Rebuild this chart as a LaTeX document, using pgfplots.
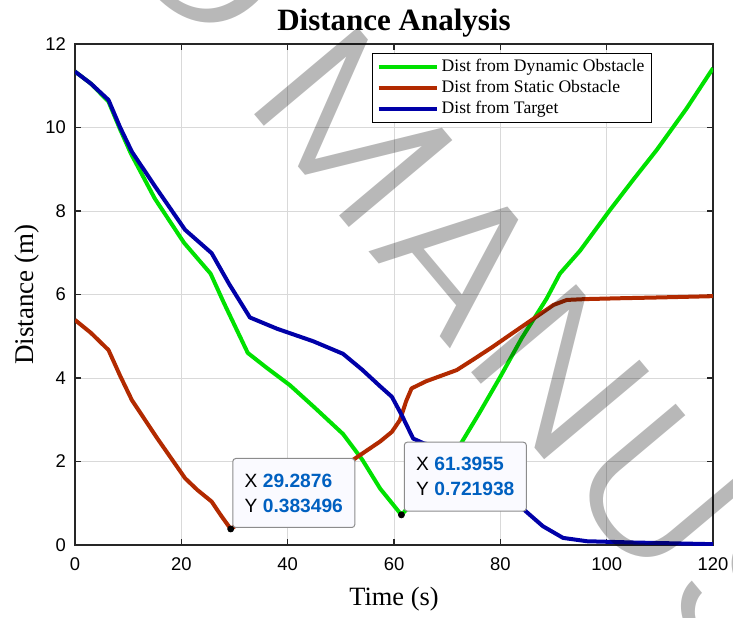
\documentclass[border=0pt]{standalone}
\usepackage{fontspec}
\setmainfont{Liberation Serif}
\setsansfont{Liberation Sans}
\newfontfamily\wmfont{Poppins}[UprightFont=* Light, FakeStretch=1.1, LetterSpace=4]
\usepackage{pgfplots}
\pgfplotsset{compat=1.18}

\definecolor{dyngreen}{RGB}{0,225,0}
\definecolor{statred}{RGB}{178,42,0}
\definecolor{tgtblue}{RGB}{0,0,168}
\definecolor{tipblue}{RGB}{0,96,192}
\definecolor{tipfill}{RGB}{250,250,255}

\tikzset{
  datatip/.style={draw=black!45, line width=0.5pt, fill=tipfill, rounded corners=1.5pt,
    minimum width=61pt, minimum height=34.5pt, align=left, inner sep=0pt,
    font=\sffamily\fontsize{9.6}{12.5}\selectfont},
}

\begin{document}
\begin{tikzpicture}
\begin{axis}[
  scale only axis, width=319pt, height=250.5pt,
  xmin=0, xmax=120, ymin=0, ymax=12,
  xtick={0,20,...,120}, ytick={0,2,...,12},
  grid=major, major grid style={line width=0.4pt, draw=black!15},
  axis line style={line width=0.6pt, black!85},
  tick style={line width=0.6pt, black!85},
  tick align=inside, major tick length=3pt,
  /pgf/number format/assume math mode=true,
  tick label style={font=\sffamily\fontsize{9.2}{10}\selectfont, black},
  xticklabel style={yshift=-3pt},
  yticklabel style={xshift=-1pt},
  title={\textbf{Distance Analysis}},
  title style={at={(axis description cs:0.5,1.002)}, anchor=base, font=\fontsize{15.5}{18}\selectfont},
  xlabel={Time (s)},
  xlabel style={at={(axis description cs:0.5,-0.1198)}, anchor=base, font=\fontsize{13.2}{15}\selectfont},
  ylabel={Distance (m)},
  ylabel style={at={(axis description cs:-0.0658,0.5)}, anchor=base, rotate=0, font=\fontsize{13.5}{15}\selectfont},
  legend style={at={(axis description cs:1,1)}, anchor=north east, xshift=-30.5pt, yshift=-4.5pt,
    draw=black, line width=0.5pt, fill=white, inner xsep=2pt, inner ysep=1.5pt, row sep=0pt,
    font=\fontsize{8.8}{10}\selectfont,
    nodes={inner ysep=0pt, inner xsep=1.5pt, text height=7.3pt, text depth=3.2pt}},
  legend cell align=left,
  legend image code/.code={\draw[#1, line width=2pt] (0pt,0pt) -- (29pt,0pt);},
]

% distance to the moving obstacle
\addplot[dyngreen, line width=2pt, line join=round] coordinates {
  (0,11.34) (3,11.05) (6.3,10.62) (8.5,9.95) (10.5,9.38) (15,8.3) (20.5,7.24)
  (25.5,6.5) (28,5.8) (31,5.0) (32.5,4.6) (36,4.25) (40.4,3.83) (45,3.3)
  (50.4,2.66) (54,2.05) (57.4,1.35) (61.3955,0.721938) (66,1.35) (72.4,2.39)
  (76,3.15) (80,4.03) (84,4.95) (88.7,5.9) (91.2,6.5) (95,7.05) (100.6,8.02)
  (105,8.75) (109.4,9.46) (115,10.45) (120,11.42)
};
\addlegendentry{Dist from Dynamic Obstacle}

% distance to the fixed obstacle
\addplot[statred, line width=2pt, line join=round] coordinates {
  (0,5.39) (3,5.08) (6.3,4.67) (8.5,4.05) (10.7,3.47) (15.5,2.55) (20.7,1.6)
  (23,1.32) (25.7,1.04) (27.5,0.7) (29.2876,0.383496) (35,0.85) (42,1.4)
  (48,1.75) (52.3,2.04) (57.4,2.48) (59.6,2.71) (61.1,2.99) (62.3,3.45)
  (63.3,3.75) (66,3.92) (71.8,4.19) (75,4.45) (78.6,4.75) (82,5.05)
  (86.8,5.47) (90,5.75) (92.5,5.87) (96,5.89) (102.5,5.91) (110,5.93) (120,5.96)
};
\addlegendentry{Dist from Static Obstacle}

% distance to the goal
\addplot[tgtblue, line width=2pt, line join=round] coordinates {
  (0,11.34) (3,11.05) (6.3,10.66) (8.5,10.0) (10.7,9.42) (15,8.6) (20.7,7.55)
  (25.7,6.99) (29,6.25) (32.9,5.45) (38,5.18) (44.8,4.88) (50.4,4.58) (54,4.2)
  (57.4,3.8) (59.6,3.55) (61.5,3.1) (63.6,2.55) (65.5,2.44) (70,2.3) (75,1.95)
  (80,1.4) (84.4,0.85) (88,0.45) (91.8,0.17) (96.3,0.09) (105,0.06) (120,0.02)
};
\addlegendentry{Dist from Target}

% data tips
\addplot[only marks, mark=*, mark size=1.5pt, black, forget plot] coordinates {
  (29.2876,0.383496) (61.3955,0.721938)
};
\node[datatip, anchor=south west, xshift=0.8pt, yshift=0.5pt] at (axis cs:29.2876,0.383496)
  {X \textbf{\color{tipblue}29.2876}\\Y \textbf{\color{tipblue}0.383496}};
\node[datatip, anchor=south west, xshift=1.2pt, yshift=1.6pt] at (axis cs:61.3955,0.721938)
  {X \textbf{\color{tipblue}61.3955}\\Y \textbf{\color{tipblue}0.721938}};
\end{axis}

% page frame
\pgfresetboundingbox
\path[use as bounding box] ([shift={(-37.5pt,-36pt)}]current axis.south west)
  rectangle ([shift={(10pt,22pt)}]current axis.north east);

% watermark
\begin{scope}[every node/.style={font=\wmfont\fontsize{98}{110}\selectfont,
    rotate=-50, inner sep=0pt, text=black, text opacity=0.28}]
  \node[anchor=base east] at ([shift={(66.4pt,243.2pt)}]current axis.south west) {ACCEPTED};
  \node[anchor=base west] at ([shift={(84pt,222pt)}]current axis.south west) {MANUSCRIPT};
\end{scope}
\end{tikzpicture}
\end{document}
